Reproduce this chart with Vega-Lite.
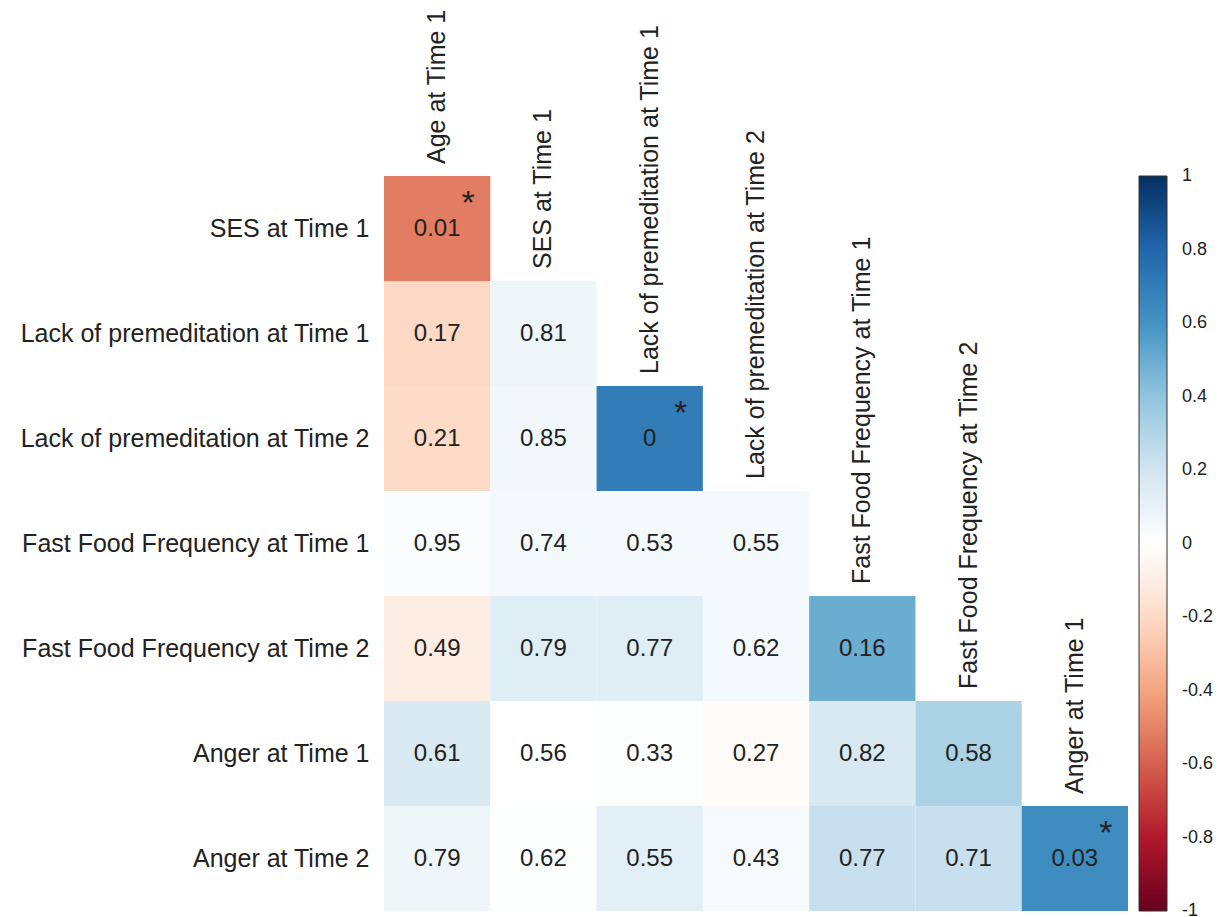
{
  "$schema": "https://vega.github.io/schema/vega-lite/v6.json",
  "width": 744,
  "height": 735,
  "autosize": {"type": "none"},
  "padding": {"left": 384, "top": 176, "right": 93, "bottom": 6},
  "background": "white",
  "config": {
    "view": {"stroke": null},
    "font": "Liberation Sans",
    "text": {"font": "Liberation Sans", "color": "#222222"}
  },
  "datasets": {
    "cells": [
      {"row": "SES at Time 1", "col": "Age at Time 1", "r": -0.52, "p": "0.01", "sig": true},
      {"row": "Lack of premeditation at Time 1", "col": "Age at Time 1", "r": -0.21, "p": "0.17", "sig": false},
      {"row": "Lack of premeditation at Time 1", "col": "SES at Time 1", "r": 0.07, "p": "0.81", "sig": false},
      {"row": "Lack of premeditation at Time 2", "col": "Age at Time 1", "r": -0.2, "p": "0.21", "sig": false},
      {"row": "Lack of premeditation at Time 2", "col": "SES at Time 1", "r": 0.06, "p": "0.85", "sig": false},
      {"row": "Lack of premeditation at Time 2", "col": "Lack of premeditation at Time 1", "r": 0.7, "p": "0", "sig": true},
      {"row": "Fast Food Frequency at Time 1", "col": "Age at Time 1", "r": 0.02, "p": "0.95", "sig": false},
      {"row": "Fast Food Frequency at Time 1", "col": "SES at Time 1", "r": 0.05, "p": "0.74", "sig": false},
      {"row": "Fast Food Frequency at Time 1", "col": "Lack of premeditation at Time 1", "r": 0.05, "p": "0.53", "sig": false},
      {"row": "Fast Food Frequency at Time 1", "col": "Lack of premeditation at Time 2", "r": 0.05, "p": "0.55", "sig": false},
      {"row": "Fast Food Frequency at Time 2", "col": "Age at Time 1", "r": -0.1, "p": "0.49", "sig": false},
      {"row": "Fast Food Frequency at Time 2", "col": "SES at Time 1", "r": 0.14, "p": "0.79", "sig": false},
      {"row": "Fast Food Frequency at Time 2", "col": "Lack of premeditation at Time 1", "r": 0.14, "p": "0.77", "sig": false},
      {"row": "Fast Food Frequency at Time 2", "col": "Lack of premeditation at Time 2", "r": 0.05, "p": "0.62", "sig": false},
      {"row": "Fast Food Frequency at Time 2", "col": "Fast Food Frequency at Time 1", "r": 0.5, "p": "0.16", "sig": false},
      {"row": "Anger at Time 1", "col": "Age at Time 1", "r": 0.16, "p": "0.61", "sig": false},
      {"row": "Anger at Time 1", "col": "SES at Time 1", "r": 0.0, "p": "0.56", "sig": false},
      {"row": "Anger at Time 1", "col": "Lack of premeditation at Time 1", "r": 0.01, "p": "0.33", "sig": false},
      {"row": "Anger at Time 1", "col": "Lack of premeditation at Time 2", "r": -0.02, "p": "0.27", "sig": false},
      {"row": "Anger at Time 1", "col": "Fast Food Frequency at Time 1", "r": 0.17, "p": "0.82", "sig": false},
      {"row": "Anger at Time 1", "col": "Fast Food Frequency at Time 2", "r": 0.32, "p": "0.58", "sig": false},
      {"row": "Anger at Time 2", "col": "Age at Time 1", "r": 0.07, "p": "0.79", "sig": false},
      {"row": "Anger at Time 2", "col": "SES at Time 1", "r": 0.01, "p": "0.62", "sig": false},
      {"row": "Anger at Time 2", "col": "Lack of premeditation at Time 1", "r": 0.12, "p": "0.55", "sig": false},
      {"row": "Anger at Time 2", "col": "Lack of premeditation at Time 2", "r": 0.04, "p": "0.43", "sig": false},
      {"row": "Anger at Time 2", "col": "Fast Food Frequency at Time 1", "r": 0.23, "p": "0.77", "sig": false},
      {"row": "Anger at Time 2", "col": "Fast Food Frequency at Time 2", "r": 0.23, "p": "0.71", "sig": false},
      {"row": "Anger at Time 2", "col": "Anger at Time 1", "r": 0.63, "p": "0.03", "sig": true}
    ],
    "collabels": [
      {"col": "Age at Time 1", "row": "SES at Time 1"},
      {"col": "SES at Time 1", "row": "Lack of premeditation at Time 1"},
      {"col": "Lack of premeditation at Time 1", "row": "Lack of premeditation at Time 2"},
      {"col": "Lack of premeditation at Time 2", "row": "Fast Food Frequency at Time 1"},
      {"col": "Fast Food Frequency at Time 1", "row": "Fast Food Frequency at Time 2"},
      {"col": "Fast Food Frequency at Time 2", "row": "Anger at Time 1"},
      {"col": "Anger at Time 1", "row": "Anger at Time 2"}
    ]
  },
  "data": {"name": "cells"},
  "encoding": {
    "x": {
      "field": "col", "type": "nominal", "sort": null,
      "scale": {"domain": ["Age at Time 1", "SES at Time 1", "Lack of premeditation at Time 1", "Lack of premeditation at Time 2", "Fast Food Frequency at Time 1", "Fast Food Frequency at Time 2", "Anger at Time 1"], "paddingInner": 0, "paddingOuter": 0},
      "axis": null
    },
    "y": {
      "field": "row", "type": "nominal", "sort": null,
      "scale": {"domain": ["SES at Time 1", "Lack of premeditation at Time 1", "Lack of premeditation at Time 2", "Fast Food Frequency at Time 1", "Fast Food Frequency at Time 2", "Anger at Time 1", "Anger at Time 2"], "paddingInner": 0, "paddingOuter": 0},
      "axis": {"title": null, "ticks": false, "domain": false, "grid": false, "labelFont": "Liberation Sans", "labelFontSize": 25, "labelColor": "#222222", "labelPadding": 15, "labelLimit": 0}
    }
  },
  "layer": [
    {
      "mark": {"type": "rect"},
      "encoding": {
        "color": {
          "field": "r", "type": "quantitative",
          "scale": {
            "domain": [-1, -0.8, -0.6, -0.4, -0.2, 0, 0.2, 0.4, 0.6, 0.8, 1],
            "range": ["#67001F", "#B2182B", "#D6604D", "#F4A582", "#FDDBC7", "#FFFFFF", "#D1E5F0", "#92C5DE", "#4393C3", "#2166AC", "#053061"],
            "interpolate": "rgb"
          },
          "legend": {
            "title": null, "orient": "right", "offset": 11, "direction": "vertical",
            "gradientLength": 735, "gradientThickness": 28,
            "gradientStrokeColor": "#333333", "gradientStrokeWidth": 1,
            "values": [-1, -0.8, -0.6, -0.4, -0.2, 0, 0.2, 0.4, 0.6, 0.8, 1],
            "labelExpr": "datum.value + ''",
            "labelFont": "Liberation Sans", "labelFontSize": 18, "labelColor": "#222222",
            "labelAlign": "center", "labelOffset": 15, "labelBaseline": "middle", "labelOverlap": false,
            "encode": {"labels": {"update": {"baseline": {"value": "middle"}}}}
          }
        }
      }
    },
    {
      "mark": {"type": "text", "fontSize": 24, "align": "center", "baseline": "middle"},
      "encoding": {"text": {"field": "p", "type": "nominal"}}
    },
    {
      "transform": [{"filter": "datum.sig"}],
      "mark": {"type": "text", "fontSize": 34, "align": "center", "baseline": "alphabetic", "dx": 31, "dy": -15},
      "encoding": {"text": {"value": "*"}}
    },
    {
      "data": {"name": "collabels"},
      "mark": {"type": "text", "fontSize": 25, "angle": 270, "align": "left", "baseline": "middle", "dx": 12},
      "encoding": {
        "y": {"field": "row", "type": "nominal", "bandPosition": 0},
        "text": {"field": "col", "type": "nominal"}
      }
    }
  ]
}
